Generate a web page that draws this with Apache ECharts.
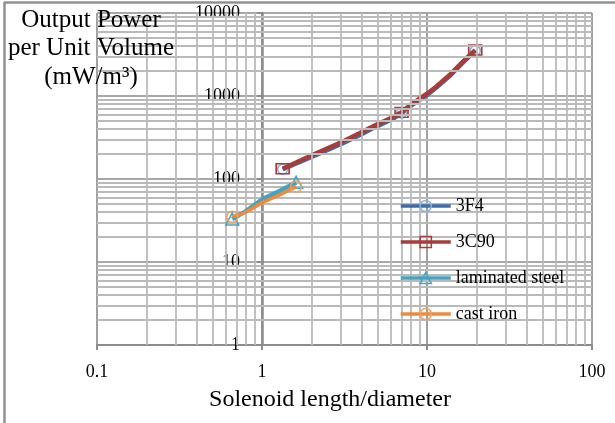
<!DOCTYPE html>
<html>
<head>
<meta charset="utf-8">
<script src="https://cdn.jsdelivr.net/npm/echarts@6/dist/echarts.min.js"></script>
<style>html,body{margin:0;padding:0;background:#fff}#c{width:615px;height:423px}</style>
</head>
<body>
<div id="c"></div>
<script>
// ---- data ----
const seriesNames = ['3F4', '3C90', 'laminated steel', 'cast iron'];

const x3F4 = [1.335, 2.015, 3.07, 4.06, 4.89, 6.18, 7.01, 8.18, 10.1, 11.35, 13.7, 16.5, 19.6];
const y3F4 = [131, 186, 268, 352, 425, 528, 622, 790, 1040, 1255, 1735, 2520, 3520];
const mark3F4 = [0, 6, 12];

const x3C90 = [1.335, 2.015, 3.07, 4.06, 4.89, 6.18, 7.01, 8.18, 10.1, 11.35, 13.7, 16.5, 19.6];
const y3C90 = [133, 194, 281, 371, 448, 554, 636, 817, 1080, 1295, 1790, 2590, 3580];
const mark3C90 = [0, 6, 12];

const xSteel = [0.66, 0.8, 1.02, 1.25, 1.61];
const ySteel = [33, 41, 58, 70, 91];
const markSteel = [0, 4];

const xIron = [0.66, 0.8, 1.02, 1.25, 1.61];
const yIron = [35, 40, 53, 63, 81];
const markIron = [0, 4];

const xTickLabels = ['0.1', '1', '10', '100'];
const yTickLabels = ['1', '10', '100', '1000', '10000'];
const xDecades = [0.1, 1, 10];
const yDecades = [1, 10, 100, 1000];
const minorMult = [2, 3, 4, 5, 6, 7, 8, 9];

const axisTitleY = 'Output Power\nper Unit Volume\n(mW/m³)';
const axisTitleX = 'Solenoid length/diameter';

// ---- styles ----
const lineColors = ['#3d6eab', '#a83c3a', '#46a3bf', '#ee8a3c'];
const markerColors = ['#8eaedb', '#a83c3a', '#46a3bf', '#f2a062'];
const lineWidths = [4.5, 4.5, 4.5, 3.5];

// ---- build ----
function pts(xs, ys, marks) {
  return xs.map((x, i) => {
    const item = { value: [x, ys[i]] };
    if (marks.indexOf(i) < 0) item.symbol = 'none';
    return item;
  });
}
const fmt = v => String(+Number(v).toPrecision(6));

const minorX = [];
xDecades.forEach(d => minorMult.forEach(k => minorX.push({ xAxis: +(d * k).toPrecision(6) })));
const minorY = [];
yDecades.forEach(d => minorMult.forEach(k => minorY.push({ yAxis: +(d * k).toPrecision(6) })));

const chart = echarts.init(document.getElementById('c'), null, { renderer: 'canvas' });
const serif = 'Liberation Serif';

function mkSeries(i, xs, ys, marks, symbol, size) {
  return {
    name: seriesNames[i], type: 'line', z: 3 + i,
    data: pts(xs, ys, marks),
    symbol: symbol, symbolSize: size, showSymbol: true,
    lineStyle: { color: lineColors[i], width: lineWidths[i], type: 'solid' },
    itemStyle: { color: 'rgba(0,0,0,0)', borderColor: markerColors[i], borderWidth: 1.5 },
    emphasis: { disabled: true }
  };
}

const option = {
  animation: false,
  backgroundColor: '#fff',
  grid: { left: 97, right: 23, top: 13, bottom: 78, outerBoundsMode: 'none', containLabel: false },
  xAxis: {
    type: 'log', logBase: 10, min: 0.1, max: 100,
    axisLine: { show: true, lineStyle: { color: '#8c8c8c', width: 2 } },
    axisTick: { show: true, length: 5, inside: false, lineStyle: { color: '#8c8c8c', width: 2 } },
    axisLabel: { margin: 18, fontFamily: serif, fontSize: 18, color: '#000',
      formatter: v => { const s = fmt(v); return xTickLabels.indexOf(s) >= 0 ? s : ''; } },
    splitLine: { show: true, lineStyle: { color: '#a0a0a0', width: 2 } },
    minorTick: { show: false }, minorSplitLine: { show: false }
  },
  yAxis: {
    type: 'log', logBase: 10, min: 1, max: 10000,
    offset: -165,
    axisLine: { show: true, lineStyle: { color: '#8c8c8c', width: 2.5 } },
    axisTick: { show: true, length: 5, inside: false, lineStyle: { color: '#8c8c8c', width: 2 } },
    axisLabel: { margin: 22, fontFamily: serif, fontSize: 18, color: '#000',
      formatter: v => { const s = fmt(v); return yTickLabels.indexOf(s) >= 0 ? s : ''; } },
    splitLine: { show: true, lineStyle: { color: '#a8a8a8', width: 2 } },
    minorTick: { show: false }, minorSplitLine: { show: false }
  },
  legend: {
    orient: 'vertical', left: 399, top: 197, z: 20, padding: 0,
    itemWidth: 50, itemHeight: 14, itemGap: 18,
    data: seriesNames.map((n, i) => ({
      name: n,
      lineStyle: { color: lineColors[i], width: 3.5, type: 'solid', opacity: 1 },
      itemStyle: { color: 'rgba(0,0,0,0)', borderColor: markerColors[i], borderWidth: 1.5 }
    })),
    textStyle: { fontFamily: serif, fontSize: 18, color: '#000', lineHeight: 18, padding: [0, 0, 0, 0] },
    selectedMode: false
  },
  series: [
    {
      name: 'grid', type: 'line', data: [], z: 1, silent: true,
      markLine: {
        silent: true, symbol: ['none', 'none'], label: { show: false },
        lineStyle: { type: 'solid', color: '#bababa', width: 1.8 },
        emphasis: { disabled: true },
        data: minorX.concat(minorY)
      }
    },
    mkSeries(0, x3F4, y3F4, mark3F4, 'circle', 10),
    mkSeries(1, x3C90, y3C90, mark3C90, 'rect', [13, 10]),
    mkSeries(2, xSteel, ySteel, markSteel, 'triangle', [13, 12]),
    mkSeries(3, xIron, yIron, markIron, 'circle', 11)
  ],
  graphic: [
    { type: 'line', shape: { x1: 4.5, y1: 2, x2: 4.5, y2: 423 }, style: { stroke: '#919191', lineWidth: 2.5 }, silent: true },
    { type: 'line', shape: { x1: 4, y1: 2.5, x2: 615, y2: 2.5 }, style: { stroke: '#919191', lineWidth: 2.5 }, silent: true },
    { type: 'text', x: 91, y: 6, z: 100, silent: true,
      style: { text: axisTitleY, fontFamily: serif, fontSize: 25, lineHeight: 28.5, fill: '#000', align: 'center', verticalAlign: 'top' } },
    { type: 'text', x: 330, y: 400, z: 100, silent: true,
      style: { text: axisTitleX, fontFamily: serif, fontSize: 24, fill: '#000', align: 'center', verticalAlign: 'middle' } }
  ]
};
chart.setOption(option);
</script>
</body>
</html>
